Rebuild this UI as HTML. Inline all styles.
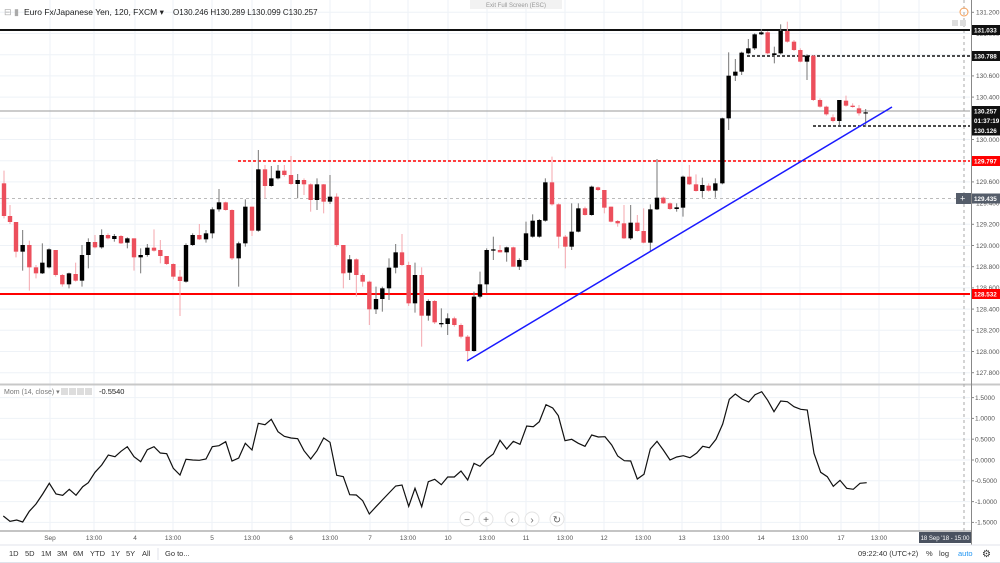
<!DOCTYPE html>
<html><head><meta charset="utf-8">
<style>
html,body{margin:0;padding:0;background:#fff;width:1000px;height:563px;overflow:hidden;font-family:"Liberation Sans",sans-serif;}
svg text{font-family:"Liberation Sans",sans-serif;}
</style></head>
<body>
<svg id="s" width="1000" height="563" viewBox="0 0 1000 563" xmlns="http://www.w3.org/2000/svg">
<rect width="1000" height="563" fill="#fff"/>
<g id="grid" stroke="#eef2f7" stroke-width="1"></g>
<g id="lines"></g>
<g id="candles"></g>
<g id="mom"></g>
<g id="axis" font-size="6.5" fill="#555"></g>
<!-- header -->
<text x="4" y="15" font-size="9" fill="#aaa">⊟ ▮</text>
<text x="24" y="15" font-size="8.5" fill="#222">Euro Fx/Japanese Yen, 120, FXCM ▾</text>
<text x="173" y="15" font-size="8" fill="#222">O130.246  H130.289  L130.099  C130.257</text>
<rect x="470" y="0" width="92" height="9" fill="#f2f2f2"/>
<text x="516" y="7" font-size="6" fill="#999" text-anchor="middle">Exit Full Screen (ESC)</text>
<circle cx="964" cy="12" r="4" fill="none" stroke="#f5a05a" stroke-width="1"/>
<rect x="952" y="20" width="6" height="6" fill="#ddd"/><rect x="960" y="20" width="6" height="6" fill="#ddd"/>
<!-- mom label -->
<text x="4" y="394" font-size="7" fill="#777">Mom (14, close) ▾</text>
<rect x="61" y="388" width="7" height="7" fill="#ddd"/><rect x="69" y="388" width="7" height="7" fill="#ddd"/><rect x="77" y="388" width="7" height="7" fill="#ddd"/><rect x="85" y="388" width="7" height="7" fill="#ddd"/>
<text x="99" y="394" font-size="7.5" fill="#222">-0.5540</text>
<!-- nav buttons -->
<g fill="#fff" stroke="#e4e4e4"><circle cx="467" cy="519" r="7"/><circle cx="486" cy="519" r="7"/><circle cx="512" cy="519" r="7"/><circle cx="532" cy="519" r="7"/><circle cx="557" cy="519" r="7"/></g>
<g font-size="10" fill="#666" text-anchor="middle"><text x="467" y="523">−</text><text x="486" y="523">+</text><text x="512" y="523">‹</text><text x="532" y="523">›</text><text x="557" y="523">↻</text></g>
<!-- toolbar -->
<rect x="0" y="545" width="1000" height="18" fill="#fff"/>
<line x1="0" y1="545" x2="1000" y2="545" stroke="#e0e3eb"/>
<g font-size="7.5" fill="#333"><text x="9" y="556">1D</text><text x="25" y="556">5D</text><text x="41" y="556">1M</text><text x="57" y="556">3M</text><text x="73" y="556">6M</text><text x="90" y="556">YTD</text><text x="111" y="556">1Y</text><text x="126" y="556">5Y</text><text x="142" y="556">All</text><text x="165" y="556">Go to...</text>
<text x="858" y="556">09:22:40 (UTC+2)</text><text x="926" y="556">%</text><text x="939" y="556">log</text><text x="958" y="556" fill="#2196f3">auto</text><text x="982" y="557" font-size="10">⚙</text></g>
<line x1="158" y1="548" x2="158" y2="560" stroke="#e0e3eb"/>
<line x1="0" y1="562.5" x2="1000" y2="562.5" stroke="#e0e3eb"/>
</svg>
<script>
var NS="http://www.w3.org/2000/svg";
function el(p,t,a,txt){var e=document.createElementNS(NS,t);for(var k in a)e.setAttribute(k,a[k]);if(txt!=null)e.textContent=txt;document.getElementById(p).appendChild(e);return e;}
function Y(p){return 30+(131.033-p)*106;}
function MY(m){return 460-41.6*m;}
var vx=[50,94,135,173,212,252,291,330,370,408,448,487,526,565,604,643,682,721,761,800,841,879,919];
vx.forEach(function(x){el("grid","line",{x1:x,y1:0,x2:x,y2:531});});
for(var p=127.6;p<=131.21;p+=0.2){var y=Y(p);if(y>2&&y<384)el("grid","line",{x1:0,y1:y,x2:970,y2:y});}
for(var m=-1.5;m<=1.51;m+=0.5){el("grid","line",{x1:0,y1:MY(m),x2:970,y2:MY(m)});}
el("lines","line",{x1:0,y1:384.5,x2:1000,y2:384.5,stroke:"#c8c8c8","stroke-width":2});
el("lines","line",{x1:971.5,y1:0,x2:971.5,y2:545,stroke:"#888"});
el("lines","line",{x1:0,y1:531,x2:972,y2:531,stroke:"#888"});
el("lines","line",{x1:964,y1:0,x2:964,y2:545,stroke:"#aaa","stroke-dasharray":"3,3"});
el("lines","line",{x1:0,y1:111,x2:970,y2:111,stroke:"#999","stroke-width":1});
el("lines","line",{x1:0,y1:198.5,x2:970,y2:198.5,stroke:"#bbb","stroke-dasharray":"3,3"});
el("lines","line",{x1:0,y1:30,x2:970,y2:30,stroke:"#111","stroke-width":2});
el("lines","line",{x1:747,y1:56,x2:970,y2:56,stroke:"#111","stroke-width":1.5,"stroke-dasharray":"3,2"});
el("lines","line",{x1:813,y1:126,x2:970,y2:126,stroke:"#111","stroke-width":1.5,"stroke-dasharray":"3,2"});
el("lines","line",{x1:238,y1:161,x2:970,y2:161,stroke:"#f00","stroke-width":1.5,"stroke-dasharray":"3,2"});
el("lines","line",{x1:0,y1:294,x2:970,y2:294,stroke:"#f00","stroke-width":2});
var c4=[[12,100,198,62,205,1],[30,198,216,165,222,1],[48,216,305,216,322,1],[68,285,305,240,362,0],[88,285,352,272,422,1],[108,352,370,345,385,1],[127,338,370,280,372,0],[147,298,352,295,355,0],[167,300,375,300,380,1],[187,375,403,372,410,1],[207,370,403,368,415,0],[227,372,392,338,395,1],[246,315,392,285,410,0],[265,276,315,265,355,0],[285,276,292,255,295,1],[305,255,292,238,296,0],[324,255,265,250,268,1],[343,258,267,252,275,0],[363,258,280,255,282,1],[382,265,278,262,295,0],[402,265,322,265,362,1],[422,315,322,295,370,0],[442,293,315,282,320,0],[462,293,302,238,305,1],[481,300,318,270,340,1],[500,318,342,318,345,1],[520,342,380,340,388,1],[540,380,393,360,498,1],[558,285,395,280,398,0],[578,255,285,250,288,0],[598,255,268,222,270,1],[618,250,268,240,278,0],[637,178,250,172,265,0],[657,157,178,117,185,0],[677,157,180,155,182,1],[696,180,325,178,330,1],[716,280,325,275,410,0],[736,170,280,148,290,0],[756,170,242,170,258,1],[775,58,242,0,245,0],[795,58,108,45,145,1],[814,85,108,48,110,0],[834,62,85,45,88,0],[853,62,75,45,80,1],[873,75,102,18,105,1],[893,90,102,72,145,0],[912,90,103,85,135,1],[932,103,150,100,185,1],[951,103,150,85,180,0],[971,103,155,102,190,1],[990,140,155,75,162,0],[1010,140,285,130,290,1],[1030,285,370,285,415,1],[1049,328,368,315,390,0],[1069,328,375,325,440,1],[1088,375,395,370,410,1],[1108,395,478,392,525,1],[1128,447,478,410,492,0],[1147,415,447,410,485,0],[1167,353,415,325,450,0],[1187,307,353,282,370,0],[1206,307,345,252,348,1],[1226,345,460,335,468,1],[1245,375,460,338,488,0],[1265,375,497,352,590,1],[1285,453,497,448,512,0],[1304,453,517,450,522,1],[1324,519,523,475,532,0],[1343,505,522,490,555,0],[1363,505,525,500,530,1],[1383,525,560,520,565,1],[1403,560,603,555,630,1],[1422,440,603,425,605,0]];
var c5=[[60,808,845,770,850,0],[80,705,808,700,835,0],[100,703,707,665,735,0],[120,705,712,690,712,1],[140,697,712,695,740,0],[160,697,755,695,755,1],[178,735,755,730,765,0],[198,655,735,620,740,0],[218,617,665,598,668,0],[238,615,665,612,668,0],[256,502,617,490,620,0],[276,502,568,425,572,1],[296,568,665,565,700,1],[316,665,695,660,760,1],[335,650,695,565,705,0],[355,580,650,565,652,0],[375,580,600,575,602,1],[395,515,600,512,602,0],[414,517,525,515,528,1],[433,525,578,525,595,1],[453,575,620,575,622,1],[473,618,625,615,635,1],[492,625,670,570,672,1],[512,623,670,570,675,0],[532,623,648,600,650,1],[551,648,683,580,685,1],[571,583,683,568,710,0],[591,548,583,432,585,0],[610,548,565,545,567,1],[630,565,582,562,585,1],[650,577,582,565,590,0],[669,485,578,482,605,0],[688,485,508,450,510,1],[708,508,528,478,530,1],[727,510,528,488,548,0],[746,512,527,505,530,1],[766,505,527,490,548,0],[787,310,505,308,508,0],[806,182,310,112,345,0],[826,170,182,132,198,0],[845,113,170,110,180,0],[865,100,115,72,118,0],[884,58,100,55,105,0],[904,52,58,42,60,0],[923,52,115,48,118,1],[943,115,120,95,145,0],[962,48,115,28,118,0],[982,48,80,20,83,1],[1002,80,105,75,108,1],[1021,105,140,100,142,1],[1041,122,140,118,195,0],[1060,122,255,120,258,1],[1080,255,275,250,278,1],[1099,275,298,272,302,1],[1119,307,318,298,322,1],[1138,255,318,255,330,0],[1158,257,272,242,275,1],[1178,272,276,265,278,1],[1197,280,295,270,302,1],[1217,292,295,282,335,0]];
function drawC(x,bt,bb,wt,wb,r){
  el("candles","line",{x1:x,y1:wt,x2:x,y2:wb,stroke:r?"#f4a7ae":"#777","stroke-width":1});
  el("candles","rect",{x:x-2.2,y:bt,width:4.4,height:Math.max(1.2,bb-bt),fill:r?"#ec4f5c":"#000"});
}
c4.forEach(function(c){drawC(c[0]/3,150+c[1]/3,150+c[2]/3,150+c[3]/3,150+c[4]/3,c[5]);});
c5.forEach(function(c){drawC(460+c[0]/3,15+c[1]/3,15+c[2]/3,15+c[3]/3,15+c[4]/3,c[5]);});
el("candles","line",{x1:467,y1:361,x2:892,y2:107,stroke:"#1a1aff","stroke-width":1.5});
var m9=[[10,396],[30,412],[50,408],[68,414],[88,382],[108,360],[128,330],[148,298],[168,330],[188,334],[208,316],[228,334],[248,308],[265,296],[285,265],[305,243],[325,213],[345,218],[363,202],[382,188],[402,218],[422,233],[442,197],[462,188],[481,207],[500,209],[520,253],[540,273],[558,226],[578,228],[598,229],[618,225],[637,188],[657,185],[677,173],[696,231],[716,222],[736,178],[756,198],[775,118],[795,122],[814,106],[834,143],[853,157],[873,162],[893,164],[912,200],[932,225],[951,200],[971,162],[990,175],[1010,274],[1030,278],[1049,332],[1069,333],[1088,350],[1108,390],[1128,368],[1147,348],[1167,327],[1187,306],[1206,303],[1226,367],[1245,313],[1265,368],[1285,293],[1304,286],[1324,302],[1343,279],[1363,279],[1383,261],[1403,288],[1422,238]];
var m10=[[30,247],[50,225],[70,210],[90,169],[110,195],[130,172],[150,181],[170,126],[190,128],[208,113],[228,62],[248,72],[265,95],[285,170],[305,166],[325,178],[345,187],[365,153],[385,159],[405,158],[425,183],[443,216],[463,230],[482,231],[502,285],[522,271],[541,195],[561,172],[580,198],[600,228],[620,219],[640,215],[660,221],[680,207],[698,187],[718,191],[738,166],[758,120],[778,46],[796,30],[816,45],[836,54],[855,32],[875,23],[893,49],[912,83],[932,51],[952,53],[972,68],[992,76],[1012,78],[1032,208],[1052,265],[1072,278],[1090,307],[1110,289],[1130,313],[1150,316],[1170,298],[1190,296]];
var pts=m9.map(function(p){return (p[0]/3).toFixed(1)+","+(384+p[1]/3).toFixed(1);}).concat(m10.map(function(p){return (470+p[0]/3).toFixed(1)+","+(384+p[1]/3).toFixed(1);}));
el("mom","polyline",{points:pts.join(" "),fill:"none",stroke:"#111","stroke-width":1.2});
for(var p=127.6;p<=131.21;p+=0.2){var y=Y(p);if(y>5&&y<382){el("axis","line",{x1:971,y1:y,x2:974,y2:y,stroke:"#888"});el("axis","text",{x:976,y:y+2.3},p.toFixed(3));}}
for(var m=-1.5;m<=1.51;m+=0.5){var y=MY(m);el("axis","line",{x1:971,y1:y,x2:974,y2:y,stroke:"#888"});el("axis","text",{x:975,y:y+2.3},m.toFixed(4));}
function tag(y,txt,bg,fg){el("axis","rect",{x:972,y:y-5,width:28,height:10,fill:bg});el("axis","text",{x:974,y:y+2.3,fill:fg||"#fff","font-weight":"bold","font-size":"6.3"},txt);}
tag(30,"131.033","#111");tag(56,"130.788","#111");tag(111,"130.257","#111");tag(120.5,"01:37:19","#111");tag(130.5,"130.126","#111");tag(161,"129.797","#f00");tag(198.5,"129.435","#555d6a");tag(294,"128.532","#f00");
el("axis","rect",{x:956,y:193,width:15,height:11,fill:"#555d6a"});el("axis","text",{x:960,y:201.5,fill:"#fff","font-size":"9"},"+");
var tl=[[50,"Sep"],[94,"13:00"],[135,"4"],[173,"13:00"],[212,"5"],[252,"13:00"],[291,"6"],[330,"13:00"],[370,"7"],[408,"13:00"],[448,"10"],[487,"13:00"],[526,"11"],[565,"13:00"],[604,"12"],[643,"13:00"],[682,"13"],[721,"13:00"],[761,"14"],[800,"13:00"],[841,"17"],[879,"13:00"]];
tl.forEach(function(t){el("axis","text",{x:t[0],y:540,"text-anchor":"middle"},t[1]);});
el("axis","rect",{x:919,y:532,width:52,height:11,fill:"#4a5260"});
el("axis","text",{x:945,y:540,fill:"#fff","text-anchor":"middle","font-size":"6"},"18 Sep '18 - 15:00");
</script>
</body></html>
